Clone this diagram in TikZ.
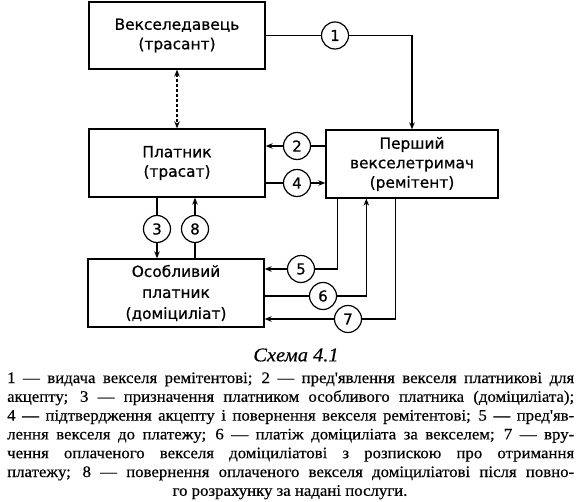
\documentclass[tikz,border=0pt]{standalone}
\usepackage{fontspec}
\setmainfont{Liberation Serif}
\newfontfamily\boxfont[FakeBold=0.7]{DejaVu Sans}
\newfontfamily\capfont[FakeStretch=1.05,FakeBold=0.4]{Liberation Serif}
\usetikzlibrary{arrows.meta,calc}
\begin{document}
\begin{tikzpicture}[x=1pt,y=-1pt,
  box/.style={draw,line width=1.3pt,minimum width=176pt,minimum height=67pt,inner sep=0pt,align=center,font=\boxfont\fontsize{15.4}{19.5}\selectfont},
  num/.style={draw,circle,line width=1.2pt,minimum size=27pt,inner sep=0pt,fill=white,font=\boxfont\fontsize{15}{15}\selectfont},
  conn/.style={line width=1.1pt},
  arr/.style={conn,-{Stealth[length=7pt,width=5.5pt]}},
  twoarr/.style={conn,densely dashed,{Stealth[length=7pt,width=5.5pt]}-{Stealth[length=7pt,width=5.5pt]}},
  capline/.style={anchor=base west,inner sep=0pt,font=\capfont\fontsize{16}{18}\selectfont}]
\useasboundingbox (0,0) rectangle (583,502);
\fill[white] (0,0) rectangle (583,502);

% boxes
\node[box] (b1) at (177,35.5) {Векселедавець\\(трасант)};
\node[box,minimum height=68pt] (b2) at (177,163) {Платник\\(трасат)};
\node[box,minimum width=172pt,minimum height=68pt] (b3) at (412,164) {Перший\\векселетримач\\(ремітент)};
\node[box,minimum height=68pt,font=\boxfont\fontsize{15.4}{21}\selectfont] (b4) at (176,293) {Особливий\\платник\\(доміциліат)};

% numbered circles
\node[num] (c1) at (335,35.5) {1};
\node[num] (c2) at (297,146) {2};
\node[num] (c4) at (297,183) {4};
\node[num] (c3) at (157,229) {3};
\node[num] (c8) at (195,229) {8};
\node[num] (c5) at (301,269) {5};
\node[num] (c6) at (323,296) {6};
\node[num] (c7) at (348,319) {7};

% connectors
\draw[conn] (b1.east) -- (c1);
\draw[arr] (c1) -| (b3.north);
\draw[twoarr] (b1.south) -- (b2.north);
\draw[conn] (c2 -| b3.west) -- (c2);
\draw[arr] (c2) -- (c2 -| b2.east);
\draw[conn] (c4 -| b2.east) -- (c4);
\draw[arr] (c4) -- (c4 -| b3.west);
\draw[conn] (c3 |- b2.south) -- (c3);
\draw[arr] (c3) -- (c3 |- b4.north);
\draw[conn] (c8 |- b4.north) -- (c8);
\draw[arr] (c8) -- (c8 |- b2.south);
\draw[conn] ($(b3.south west)+(12,0)$) |- (c5);
\draw[arr] (c5) -- (c5 -| b4.east);
\draw[conn] (c6 -| b4.east) -- (c6);
\draw[arr] (c6) -| ($(b3.south west)+(41,0)$);
\draw[conn] ($(b3.south west)+(70,0)$) |- (c7);
\draw[arr] (c7) -- (c7 -| b4.east);

% caption
\node[inner sep=0pt,font=\capfont\itshape\fontsize{19.5}{19.5}\selectfont] (cap) at (296,355) {Схема 4.1};
\node[capline] (l1) at (7,383) {\makebox[567pt][s]{1 — видача векселя ремітентові; 2 — пред'явлення векселя платникові для}};
\node[capline] (l2) at (7,401.8) {\makebox[567pt][s]{акцепту; 3 — призначення платником особливого платника (доміциліата);}};
\node[capline] (l3) at (7,420.6) {\makebox[567pt][s]{4 — підтвердження акцепту і повернення векселя ремітентові; 5 — пред'яв-}};
\node[capline] (l4) at (7,439.4) {\makebox[567pt][s]{лення векселя до платежу; 6 — платіж доміциліата за векселем; 7 — вру-}};
\node[capline] (l5) at (7,458.2) {\makebox[567pt][s]{чення оплаченого векселя доміциліатові з розпискою про отримання}};
\node[capline] (l6) at (7,477) {\makebox[567pt][s]{платежу; 8 — повернення оплаченого векселя доміциліатові після повно-}};
\node[anchor=base,inner sep=0pt,font=\capfont\fontsize{16}{18}\selectfont] (l7) at (290,495.8) {го розрахунку за надані послуги.};
\end{tikzpicture}
\end{document}
